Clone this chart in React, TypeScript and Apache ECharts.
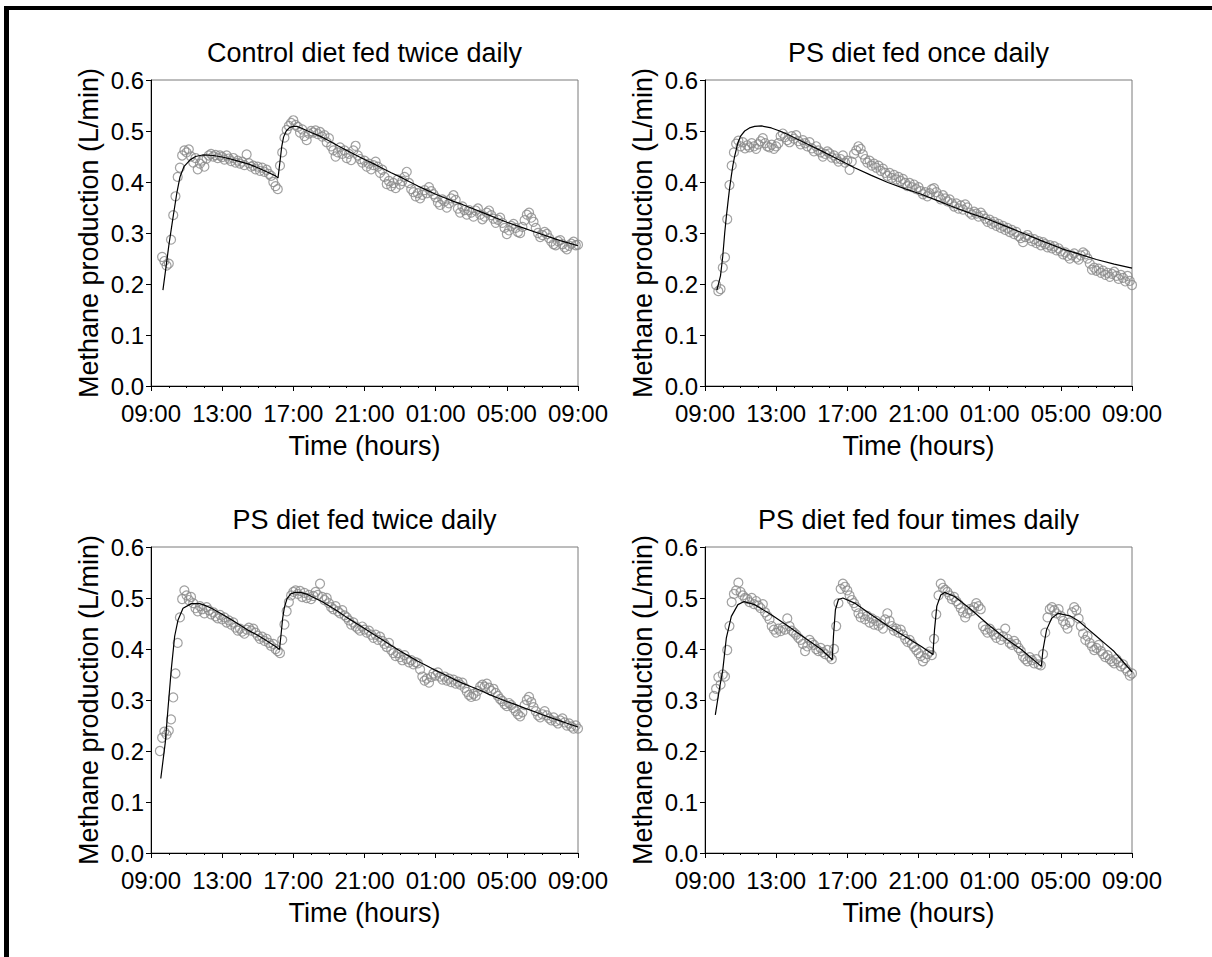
import React, { useEffect, useRef } from 'react';
import * as echarts from 'echarts';

// ---------------- data ----------------
const STEP = 0.125; // hours between observations
const X_TICK_LABELS = ['09:00', '13:00', '17:00', '21:00', '01:00', '05:00', '09:00'];
const Y_TICK_LABELS = ['0.0', '0.1', '0.2', '0.3', '0.4', '0.5', '0.6'];
const TITLES = [
  'Control diet fed twice daily',
  'PS diet fed once daily',
  'PS diet fed twice daily',
  'PS diet fed four times daily',
];
const OBS_START = [0.625, 0.625, 0.5, 0.5];

// Control diet fed twice daily (observations, every 7.5 min from 0.625 h)
const obsControl2 = [
  0.253, 0.245, 0.236,
  0.240, 0.287, 0.335, 0.372, 0.410, 0.428, 0.452, 0.462,
  0.458, 0.464, 0.450, 0.438, 0.447, 0.425, 0.436, 0.442,
  0.430, 0.446, 0.452, 0.455, 0.450, 0.453, 0.447, 0.452,
  0.449, 0.444, 0.452, 0.446, 0.441, 0.447, 0.438, 0.442,
  0.436, 0.440, 0.433, 0.454, 0.437, 0.430, 0.432, 0.425,
  0.430, 0.422, 0.428, 0.420, 0.424, 0.416, 0.412, 0.400,
  0.392, 0.386, 0.432, 0.458, 0.487, 0.502, 0.510, 0.516,
  0.521, 0.512, 0.508, 0.497, 0.503, 0.490, 0.482, 0.495,
  0.500, 0.497, 0.501, 0.494, 0.498, 0.489, 0.492, 0.478,
  0.486, 0.470, 0.462, 0.450, 0.458, 0.468, 0.455, 0.462,
  0.447, 0.455, 0.443, 0.462, 0.471, 0.452, 0.445, 0.438,
  0.442, 0.430, 0.436, 0.425, 0.433, 0.440, 0.430, 0.418,
  0.424, 0.410, 0.396, 0.402, 0.392, 0.398, 0.388, 0.405,
  0.395, 0.402, 0.410, 0.420, 0.398, 0.386, 0.380, 0.372,
  0.378, 0.368, 0.375, 0.384, 0.378, 0.390, 0.382, 0.376,
  0.370, 0.360, 0.355, 0.366, 0.362, 0.350, 0.358, 0.368,
  0.374, 0.365, 0.348, 0.340, 0.352, 0.345, 0.336, 0.345,
  0.340, 0.332, 0.344, 0.348, 0.336, 0.327, 0.332, 0.340,
  0.344, 0.335, 0.328, 0.320, 0.326, 0.330, 0.320, 0.310,
  0.298, 0.305, 0.314, 0.318, 0.310, 0.302, 0.300, 0.312,
  0.325, 0.336, 0.340, 0.330, 0.322, 0.310, 0.300, 0.292,
  0.296, 0.302, 0.298, 0.290, 0.283, 0.278, 0.276, 0.284,
  0.286, 0.278, 0.272, 0.268, 0.275, 0.279, 0.283, 0.276,
  0.277,
];
const fitControl2 = [
  [0.67, 0.188], [0.85, 0.235], [1.0, 0.275], [1.24, 0.331], [1.45, 0.378], [1.63, 0.41],
  [1.85, 0.43], [2.19, 0.443], [2.5, 0.45], [2.9, 0.453], [3.5, 0.452], [4.0, 0.449],
  [4.5, 0.445], [5.0, 0.44], [5.5, 0.435], [6.0, 0.428], [6.5, 0.42], [7.0, 0.412],
  [7.14, 0.408], [7.25, 0.44], [7.35, 0.47], [7.45, 0.488], [7.6, 0.5], [7.8, 0.507],
  [8.0, 0.509], [8.2, 0.509], [8.5, 0.505], [9.0, 0.497], [9.5, 0.49], [10.0, 0.481],
  [10.5, 0.471], [11.0, 0.462], [11.5, 0.453], [12.0, 0.444], [12.5, 0.436], [13.0, 0.427],
  [13.5, 0.418], [14.0, 0.41], [14.5, 0.401], [15.0, 0.392], [15.5, 0.384], [16.0, 0.376],
  [16.5, 0.369], [17.0, 0.362], [17.5, 0.356], [18.0, 0.349], [18.5, 0.342], [19.0, 0.335],
  [19.5, 0.328], [20.0, 0.321], [20.5, 0.315], [21.0, 0.309], [21.5, 0.303], [22.0, 0.297],
  [22.5, 0.291], [23.0, 0.285], [23.5, 0.28], [24.0, 0.275],
];

// PS diet fed once daily
const obsPS1 = [
  0.198, 0.186, 0.190,
  0.232, 0.252, 0.327, 0.394, 0.432, 0.458, 0.475, 0.481,
  0.470, 0.478, 0.466, 0.472, 0.468, 0.476, 0.470, 0.465,
  0.474, 0.480, 0.486, 0.476, 0.470, 0.468, 0.473, 0.465,
  0.470, 0.476, 0.490, 0.495, 0.488, 0.482, 0.478, 0.490,
  0.485, 0.492, 0.480, 0.474, 0.482, 0.476, 0.470, 0.478,
  0.466, 0.460, 0.470, 0.462, 0.458, 0.450, 0.455, 0.460,
  0.456, 0.448, 0.452, 0.446, 0.440, 0.445, 0.452, 0.438,
  0.442, 0.424, 0.440, 0.455, 0.462, 0.470, 0.465, 0.454,
  0.445, 0.438, 0.442, 0.432, 0.436, 0.428, 0.432, 0.422,
  0.426, 0.418, 0.412, 0.418, 0.408, 0.414, 0.405, 0.410,
  0.402, 0.406, 0.398, 0.392, 0.398, 0.390, 0.395, 0.386,
  0.390, 0.382, 0.376, 0.380, 0.372, 0.378, 0.386, 0.388,
  0.380, 0.372, 0.366, 0.374, 0.368, 0.362, 0.366, 0.358,
  0.352, 0.358, 0.348, 0.354, 0.346, 0.356, 0.350, 0.340,
  0.336, 0.342, 0.338, 0.332, 0.340, 0.334, 0.328, 0.322,
  0.326, 0.318, 0.322, 0.314, 0.318, 0.310, 0.314, 0.306,
  0.310, 0.302, 0.306, 0.298, 0.302, 0.294, 0.290, 0.282,
  0.292, 0.296, 0.290, 0.284, 0.288, 0.280, 0.284, 0.276,
  0.282, 0.278, 0.272, 0.276, 0.270, 0.274, 0.266, 0.270,
  0.264, 0.258, 0.262, 0.255, 0.250, 0.256, 0.260, 0.252,
  0.248, 0.256, 0.262, 0.258, 0.250, 0.240, 0.228, 0.232,
  0.226, 0.230, 0.222, 0.226, 0.218, 0.222, 0.214, 0.220,
  0.224, 0.216, 0.210, 0.218, 0.212, 0.205, 0.216, 0.206,
  0.198,
];
const fitPS1 = [
  [0.67, 0.188], [0.87, 0.216], [1.0, 0.255], [1.11, 0.301], [1.2, 0.332], [1.29, 0.36],
  [1.38, 0.387], [1.48, 0.412], [1.57, 0.433], [1.67, 0.451], [1.85, 0.477], [2.0, 0.49],
  [2.23, 0.5], [2.5, 0.506], [2.79, 0.509], [3.17, 0.51], [3.73, 0.506], [4.2, 0.5],
  [4.66, 0.493], [5.6, 0.477], [6.54, 0.461], [7.5, 0.444], [8.41, 0.428], [9.35, 0.413],
  [10.28, 0.399], [11.22, 0.387], [12.16, 0.376], [13.1, 0.363], [14.03, 0.35], [14.97, 0.338],
  [15.91, 0.327], [16.85, 0.314], [17.78, 0.301], [18.9, 0.285], [20.07, 0.269], [21.0, 0.259],
  [22.0, 0.248], [23.0, 0.239], [24.0, 0.231],
];

// PS diet fed twice daily
const obsPS2 = [
  0.200, 0.226, 0.238, 0.232,
  0.240, 0.262, 0.305, 0.352, 0.412, 0.462, 0.498, 0.515,
  0.505, 0.496, 0.502, 0.490, 0.480, 0.474, 0.484, 0.478,
  0.470, 0.482, 0.476, 0.468, 0.472, 0.464, 0.460, 0.467,
  0.458, 0.462, 0.452, 0.456, 0.448, 0.452, 0.442, 0.436,
  0.440, 0.434, 0.430, 0.438, 0.442, 0.436, 0.440, 0.432,
  0.426, 0.420, 0.424, 0.416, 0.420, 0.412, 0.406, 0.410,
  0.400, 0.396, 0.392, 0.418, 0.448, 0.474, 0.492, 0.505,
  0.512, 0.515, 0.508, 0.514, 0.502, 0.510, 0.500, 0.506,
  0.498, 0.504, 0.512, 0.506, 0.528, 0.502, 0.496, 0.500,
  0.490, 0.482, 0.478, 0.484, 0.474, 0.470, 0.476, 0.466,
  0.462, 0.456, 0.448, 0.452, 0.444, 0.440, 0.436, 0.444,
  0.438, 0.432, 0.436, 0.428, 0.422, 0.428, 0.418, 0.424,
  0.416, 0.410, 0.404, 0.412, 0.398, 0.392, 0.386, 0.392,
  0.384, 0.378, 0.388, 0.380, 0.374, 0.378, 0.370, 0.374,
  0.372, 0.360, 0.346, 0.338, 0.342, 0.334, 0.345, 0.352,
  0.348, 0.354, 0.346, 0.340, 0.346, 0.338, 0.342, 0.335,
  0.340, 0.332, 0.336, 0.330, 0.334, 0.324, 0.316, 0.310,
  0.306, 0.312, 0.308, 0.318, 0.326, 0.330, 0.326, 0.332,
  0.324, 0.318, 0.322, 0.314, 0.308, 0.302, 0.298, 0.292,
  0.288, 0.294, 0.290, 0.284, 0.278, 0.272, 0.268, 0.276,
  0.290, 0.300, 0.306, 0.296, 0.286, 0.278, 0.270, 0.266,
  0.272, 0.278, 0.270, 0.264, 0.260, 0.266, 0.258, 0.254,
  0.260, 0.264, 0.256, 0.250, 0.254, 0.248, 0.244, 0.250,
  0.244,
];
const fitPS2 = [
  [0.55, 0.146], [0.8, 0.216], [0.95, 0.281], [1.14, 0.36], [1.33, 0.425], [1.52, 0.457],
  [1.8, 0.48], [2.27, 0.489], [2.74, 0.489], [3.0, 0.486], [3.4, 0.48], [4.0, 0.468],
  [4.5, 0.458], [5.0, 0.447], [5.5, 0.436], [6.0, 0.427], [6.5, 0.416], [7.0, 0.405],
  [7.22, 0.399], [7.3, 0.425], [7.4, 0.46], [7.5, 0.482], [7.65, 0.499], [7.85, 0.508],
  [8.1, 0.511], [8.4, 0.511], [8.8, 0.507], [9.2, 0.5], [9.6, 0.493], [10.0, 0.485],
  [10.5, 0.474], [11.0, 0.462], [11.5, 0.451], [12.0, 0.44], [12.5, 0.429], [13.0, 0.418],
  [13.5, 0.407], [14.0, 0.396], [14.5, 0.386], [15.0, 0.376], [15.5, 0.367], [16.0, 0.358],
  [16.5, 0.35], [17.0, 0.341], [17.5, 0.333], [18.0, 0.326], [18.5, 0.319], [19.0, 0.311],
  [19.5, 0.304], [20.0, 0.297], [20.5, 0.291], [21.0, 0.284], [21.5, 0.278], [22.0, 0.271],
  [22.5, 0.265], [23.0, 0.259], [23.5, 0.253], [24.0, 0.247],
];

// PS diet fed four times daily
const obsPS4 = [
  0.308, 0.322, 0.345, 0.330,
  0.350, 0.346, 0.398, 0.445, 0.492, 0.508, 0.515, 0.530,
  0.512, 0.505, 0.500, 0.498, 0.492, 0.500, 0.488, 0.494,
  0.485, 0.480, 0.488, 0.472, 0.465, 0.458, 0.445, 0.438,
  0.432, 0.440, 0.435, 0.442, 0.438, 0.460, 0.445, 0.436,
  0.432, 0.428, 0.422, 0.418, 0.410, 0.396, 0.405, 0.418,
  0.412, 0.408, 0.400, 0.396, 0.402, 0.394, 0.390, 0.398,
  0.385, 0.380, 0.400, 0.445, 0.490, 0.518, 0.528, 0.522,
  0.515, 0.505, 0.496, 0.490, 0.482, 0.470, 0.462, 0.468,
  0.458, 0.465, 0.452, 0.460, 0.448, 0.455, 0.446, 0.450,
  0.440, 0.458, 0.470, 0.455, 0.445, 0.436, 0.440, 0.432,
  0.438, 0.428, 0.420, 0.414, 0.418, 0.410, 0.404, 0.398,
  0.392, 0.386, 0.376, 0.382, 0.390, 0.395, 0.388, 0.420,
  0.468, 0.505, 0.528, 0.520, 0.516, 0.512, 0.505, 0.498,
  0.502, 0.494, 0.488, 0.480, 0.472, 0.462, 0.470, 0.478,
  0.475, 0.482, 0.490, 0.484, 0.478, 0.445, 0.438, 0.432,
  0.440, 0.434, 0.428, 0.422, 0.430, 0.418, 0.425, 0.440,
  0.420, 0.412, 0.408, 0.416, 0.410, 0.402, 0.396, 0.385,
  0.380, 0.376, 0.384, 0.378, 0.372, 0.380, 0.370, 0.368,
  0.390, 0.432, 0.462, 0.478, 0.482, 0.476, 0.470, 0.478,
  0.465, 0.455, 0.448, 0.440, 0.452, 0.472, 0.482, 0.476,
  0.460, 0.445, 0.430, 0.418, 0.425, 0.412, 0.405, 0.398,
  0.402, 0.408, 0.396, 0.390, 0.384, 0.388, 0.380, 0.376,
  0.372, 0.380, 0.374, 0.366, 0.370, 0.362, 0.356, 0.348,
  0.352,
];
const fitPS4 = [
  [0.58, 0.271], [0.8, 0.32], [1.0, 0.359], [1.2, 0.422], [1.48, 0.464], [1.85, 0.487],
  [2.2, 0.493], [2.79, 0.487], [3.73, 0.467], [4.66, 0.445], [5.6, 0.422], [6.54, 0.399],
  [7.15, 0.379], [7.22, 0.425], [7.33, 0.477], [7.5, 0.497], [7.75, 0.5], [8.41, 0.49],
  [9.35, 0.467], [10.28, 0.445], [11.22, 0.425], [12.16, 0.405], [12.81, 0.389], [12.9, 0.438],
  [13.03, 0.484], [13.25, 0.506], [13.47, 0.511], [14.03, 0.503], [14.97, 0.477], [15.91, 0.448],
  [16.84, 0.422], [17.78, 0.399], [18.9, 0.366], [19.0, 0.399], [19.2, 0.438], [19.48, 0.46],
  [19.85, 0.47], [20.5, 0.465], [21.0, 0.455], [21.5, 0.44], [22.0, 0.425], [22.5, 0.41],
  [23.0, 0.395], [23.5, 0.375], [24.0, 0.355],
];

const OBS = [obsControl2, obsPS1, obsPS2, obsPS4];
const FITS = [fitControl2, fitPS1, fitPS2, fitPS4];

// ---------------- layout ----------------
const GRID_LEFT = [151, 705, 151, 705];
const GRID_TOP = [80, 80, 547, 547];
const GRID_W = 427;
const GRID_H = 306;
const FONT = 'Arial, "Liberation Sans", Helvetica, sans-serif';

function buildOption(): any {
  const grids = GRID_LEFT.map((l, i) => ({
    left: l,
    top: GRID_TOP[i],
    width: GRID_W,
    height: GRID_H,
    show: true,
    borderColor: '#7a7a7a',
    borderWidth: 1,
    backgroundColor: 'transparent',
  }));
  const xAxes = GRID_LEFT.map((_, i) => ({
    type: 'value',
    gridIndex: i,
    min: 0,
    max: 24,
    interval: 4,
    name: 'Time (hours)',
    nameLocation: 'middle',
    nameGap: 46,
    nameTextStyle: { fontFamily: FONT, fontSize: 27, color: '#000' },
    axisLine: { onZero: false, lineStyle: { color: '#000', width: 1 } },
    axisTick: { show: true, length: 5, lineStyle: { color: '#000', width: 1 } },
    minorTick: { show: true, splitNumber: 4, length: 2, lineStyle: { color: '#000', width: 1 } },
    splitLine: { show: false },
    axisLabel: {
      fontFamily: FONT,
      fontSize: 24,
      lineHeight: 22,
      color: '#000',
      margin: 16,
      showMinLabel: true,
      showMaxLabel: true,
      formatter: (v: number) => X_TICK_LABELS[Math.round(v / 4)] ?? '',
    },
  }));
  const yAxes = GRID_LEFT.map((_, i) => ({
    type: 'value',
    gridIndex: i,
    min: 0,
    max: 0.6,
    interval: 0.1,
    name: 'Methane production (L/min)',
    nameLocation: 'middle',
    nameGap: 49,
    nameTextStyle: { fontFamily: FONT, fontSize: 27, color: '#000' },
    axisLine: { show: true, onZero: false, lineStyle: { color: '#000', width: 1 } },
    axisTick: { show: true, length: 5, lineStyle: { color: '#000', width: 1 } },
    splitLine: { show: false },
    axisLabel: {
      fontFamily: FONT,
      fontSize: 24,
      lineHeight: 18,
      color: '#000',
      margin: 7,
      formatter: (v: number) => Y_TICK_LABELS[Math.round(v * 10)] ?? '',
    },
  }));
  const series: any[] = [];
  OBS.forEach((obs, i) => {
    series.push({
      type: 'scatter',
      xAxisIndex: i,
      yAxisIndex: i,
      silent: true,
      symbol: 'circle',
      symbolSize: 9,
      itemStyle: { color: 'rgba(0,0,0,0)', borderColor: '#8a8a8a', borderWidth: 1.2 },
      data: obs.map((v, k) => [OBS_START[i] + k * STEP, v]),
      z: 2,
    });
    series.push({
      type: 'line',
      xAxisIndex: i,
      yAxisIndex: i,
      silent: true,
      symbol: 'none',
      showSymbol: false,
      lineStyle: { color: '#000', width: 1.2 },
      data: FITS[i],
      z: 3,
    });
  });
  const titles = TITLES.map((t, i) => ({
    text: t,
    left: GRID_LEFT[i] + GRID_W / 2 - 5,
    top: GRID_TOP[i] - 46,
    textAlign: 'center',
    textStyle: { fontFamily: FONT, fontSize: 27, fontWeight: 'normal', color: '#000' },
  }));
  return {
    animation: false,
    backgroundColor: '#fff',
    title: titles,
    grid: grids,
    xAxis: xAxes,
    yAxis: yAxes,
    series,
    graphic: [
      { type: 'rect', shape: { x: 4, y: 6, width: 5, height: 951 }, style: { fill: '#000' }, silent: true },
      { type: 'rect', shape: { x: 4, y: 6, width: 1208, height: 4 }, style: { fill: '#000' }, silent: true },
    ],
  };
}

export default function App() {
  const ref = useRef<HTMLDivElement>(null);
  useEffect(() => {
    if (!ref.current) return;
    const chart = echarts.init(ref.current, undefined, { renderer: 'svg' });
    chart.setOption(buildOption());
    return () => chart.dispose();
  }, []);
  return (
    <div
      ref={ref}
      style={{ position: 'absolute', left: 0, top: 0, width: 1212, height: 957, background: '#fff' }}
    />
  );
}
